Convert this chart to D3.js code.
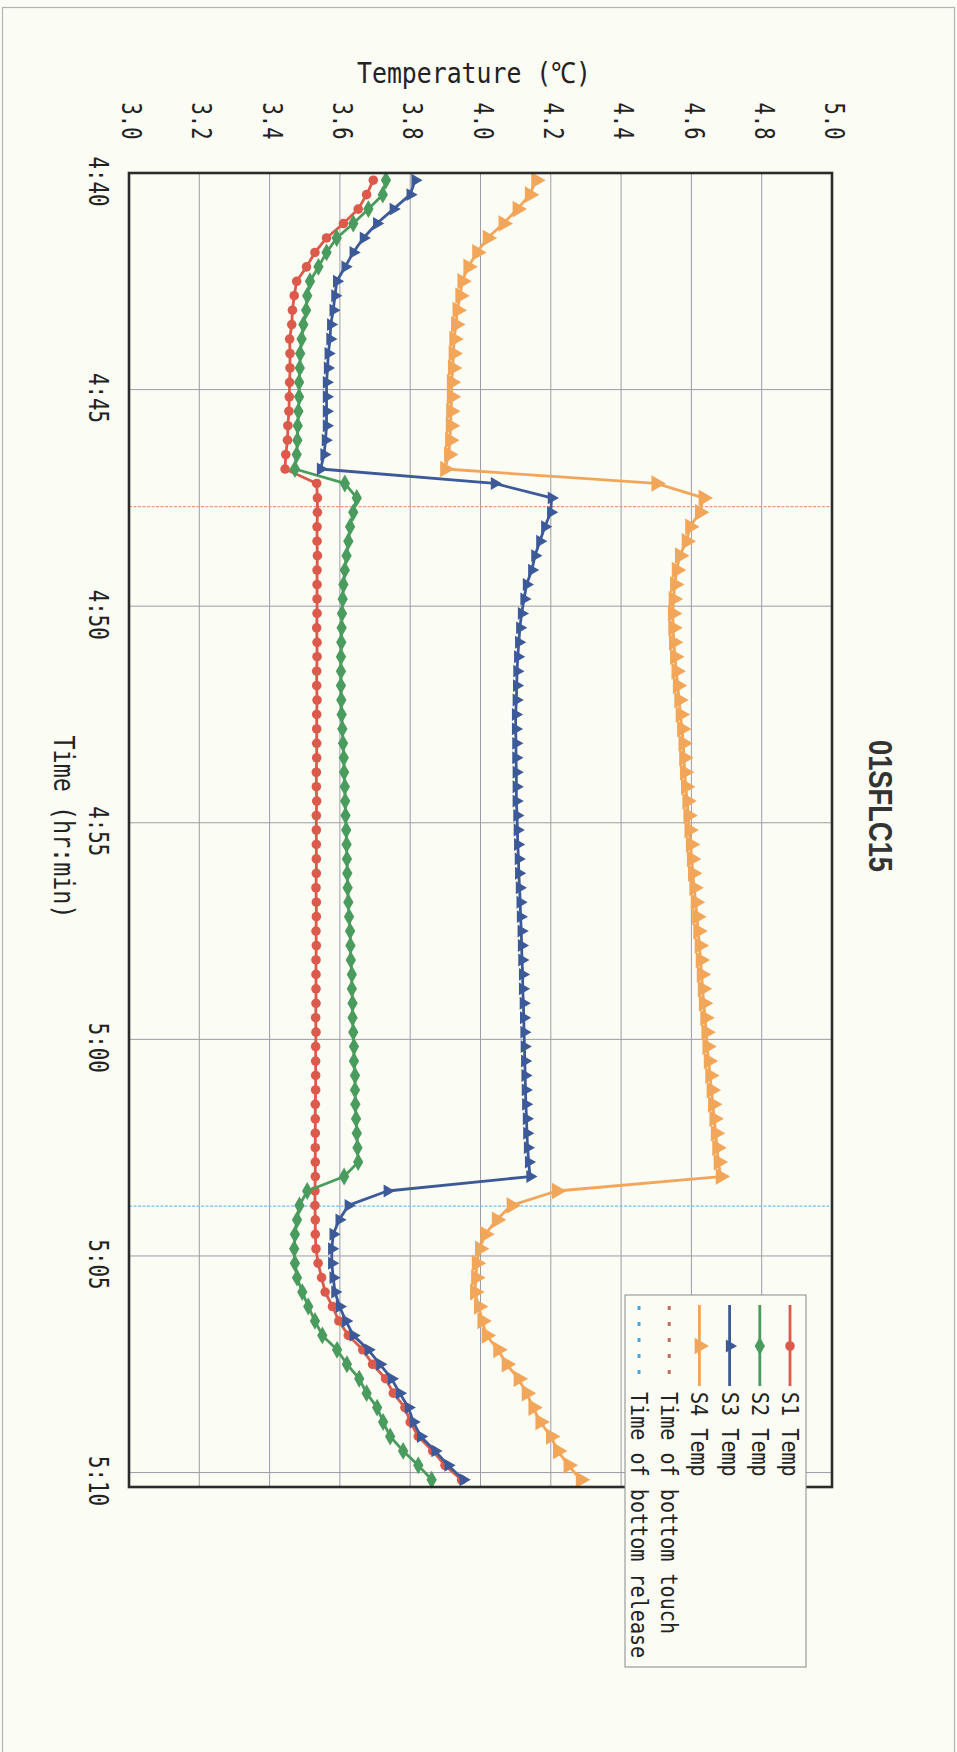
<!DOCTYPE html>
<html>
<head>
<meta charset="utf-8">
<script src="https://cdn.jsdelivr.net/npm/d3@7"></script>
<style>
  body { margin: 0; background: #fbfcf4; }
  svg { display: block; }
</style>
</head>
<body>
<script>
var chartTitle = '01SFLC15';
var tempTitle = 'Temperature (\u2103)';
var timeTitle = 'Time (hr:min)';

var tempTicks = [3.0, 3.2, 3.4, 3.6, 3.8, 4.0, 4.2, 4.4, 4.6, 4.8, 5.0];
var timeTicks = ['4:40:00', '4:45:00', '4:50:00', '4:55:00', '5:00:00', '5:05:00', '5:10:00'];
var timeDomain = ['4:40:00', '5:10:20'];

// one reading every 20 s starting at 4:40:10
var sampleStart = '4:40:10';
var sampleStep = 20;

var seriesNames = ['S1 Temp', 'S2 Temp', 'S3 Temp', 'S4 Temp'];

var s1Temp = [
  3.695, 3.676, 3.652, 3.610, 3.562, 3.529, 3.505, 3.477, 3.470, 3.465,
  3.463, 3.457, 3.458, 3.458, 3.457, 3.456, 3.455, 3.452, 3.451, 3.446,
  3.444, 3.534, 3.536, 3.536, 3.535, 3.535, 3.536, 3.535, 3.535, 3.535,
  3.535, 3.534, 3.535, 3.535, 3.534, 3.534, 3.535, 3.534, 3.534, 3.534,
  3.534, 3.533, 3.533, 3.534, 3.533, 3.533, 3.533, 3.533, 3.533, 3.532,
  3.533, 3.533, 3.532, 3.533, 3.532, 3.532, 3.532, 3.532, 3.531, 3.532,
  3.531, 3.531, 3.531, 3.531, 3.530, 3.530, 3.530, 3.530, 3.530, 3.530,
  3.529, 3.529, 3.530, 3.530, 3.532, 3.538, 3.548, 3.558, 3.579, 3.597,
  3.624, 3.665, 3.693, 3.730, 3.752, 3.785, 3.800, 3.823, 3.864, 3.899,
  3.946
];

var s2Temp = [
  3.731, 3.722, 3.681, 3.638, 3.591, 3.562, 3.539, 3.515, 3.507, 3.504,
  3.496, 3.491, 3.487, 3.486, 3.484, 3.484, 3.482, 3.480, 3.479, 3.477,
  3.472, 3.614, 3.648, 3.638, 3.629, 3.624, 3.619, 3.614, 3.610, 3.608,
  3.606, 3.605, 3.604, 3.603, 3.603, 3.603, 3.604, 3.605, 3.607, 3.609,
  3.611, 3.612, 3.614, 3.615, 3.616, 3.618, 3.619, 3.620, 3.621, 3.622,
  3.624, 3.626, 3.629, 3.630, 3.631, 3.634, 3.634, 3.636, 3.636, 3.638,
  3.640, 3.640, 3.643, 3.643, 3.644, 3.646, 3.648, 3.650, 3.652, 3.612,
  3.507, 3.485, 3.478, 3.472, 3.470, 3.472, 3.478, 3.493, 3.510, 3.529,
  3.550, 3.592, 3.620, 3.655, 3.676, 3.706, 3.723, 3.743, 3.780, 3.823,
  3.861
];

var s3Temp = [
  3.814, 3.800, 3.752, 3.705, 3.667, 3.638, 3.615, 3.591, 3.586, 3.581,
  3.574, 3.572, 3.567, 3.565, 3.562, 3.562, 3.562, 3.562, 3.559, 3.555,
  3.545, 4.040, 4.202, 4.200, 4.183, 4.169, 4.155, 4.146, 4.131, 4.124,
  4.117, 4.112, 4.109, 4.106, 4.104, 4.103, 4.102, 4.100, 4.100, 4.101,
  4.101, 4.102, 4.102, 4.102, 4.104, 4.105, 4.106, 4.108, 4.109, 4.111,
  4.113, 4.114, 4.116, 4.117, 4.118, 4.120, 4.120, 4.122, 4.123, 4.124,
  4.125, 4.126, 4.127, 4.128, 4.129, 4.131, 4.132, 4.134, 4.137, 4.141,
  3.735, 3.624, 3.598, 3.581, 3.577, 3.577, 3.581, 3.586, 3.599, 3.617,
  3.638, 3.681, 3.714, 3.747, 3.770, 3.795, 3.809, 3.830, 3.871, 3.908,
  3.951
];

var s4Temp = [
  4.158, 4.140, 4.105, 4.065, 4.020, 3.990, 3.965, 3.948, 3.942, 3.934,
  3.930, 3.925, 3.923, 3.921, 3.918, 3.918, 3.916, 3.915, 3.913, 3.910,
  3.899, 4.500, 4.634, 4.624, 4.596, 4.586, 4.567, 4.558, 4.553, 4.549,
  4.547, 4.548, 4.550, 4.553, 4.557, 4.561, 4.565, 4.569, 4.573, 4.577,
  4.579, 4.581, 4.584, 4.588, 4.591, 4.594, 4.598, 4.601, 4.604, 4.608,
  4.612, 4.616, 4.619, 4.623, 4.626, 4.629, 4.632, 4.635, 4.639, 4.642,
  4.645, 4.649, 4.653, 4.657, 4.661, 4.665, 4.669, 4.673, 4.677, 4.683,
  4.217, 4.088, 4.046, 4.013, 3.998, 3.989, 3.987, 3.984, 3.995, 4.005,
  4.017, 4.050, 4.074, 4.108, 4.131, 4.150, 4.170, 4.200, 4.220, 4.250,
  4.285
];

var eventNames = ['Time of bottom touch', 'Time of bottom release'];
var eventTimes = ['4:47:42', '5:03:51'];

var colors = ['#dc5a4c', '#4a9c5e', '#3d5a98', '#f2a65a'];
var eventColors = ['#ef9670', '#74bfeb'];
var eventLegendColors = ['#c56c58', '#4aa6de'];

var mono = "'DejaVu Sans Mono', monospace";

buildPlot();

/* ===== BUILD PLOT FUNCTION ===== */

function buildPlot() {
  var w = 957;
  var h = 1752;
  var plot = {left: 129, right: 832, top: 173, bottom: 1487};

  var parseTime = d3.timeParse('%H:%M:%S');
  var t0 = parseTime(sampleStart);

  var allSeries = [s1Temp, s2Temp, s3Temp, s4Temp].map(function(vals) {
    return vals.map(function(v, i) {
      return {time: d3.timeSecond.offset(t0, i * sampleStep), temp: v};
    });
  });

  var svgFrame = d3.select('body')
    .append('svg')
    .attr('width', w)
    .attr('height', h);

  // outer chart frame (scanned page)
  svgFrame.append('rect')
    .attr('x', 2.5)
    .attr('y', 7.5)
    .attr('width', 952)
    .attr('height', 1800)
    .attr('fill', '#fbfcf4')
    .attr('stroke', '#b4b4ae')
    .attr('stroke-width', 1.2);

  /* ===== scales ===== */

  var xScale = d3.scaleLinear()
    .domain([tempTicks[0], tempTicks[tempTicks.length - 1]])
    .range([plot.left, plot.right]);

  var yScale = d3.scaleTime()
    .domain(timeDomain.map(parseTime))
    .range([plot.top, plot.bottom]);

  /* ===== grid ===== */

  var grid = svgFrame.append('g')
    .attr('stroke', '#9d9ca8')
    .attr('stroke-width', 1);

  grid.selectAll('.vgrid').data(tempTicks)
    .enter()
    .append('line')
    .attr('x1', function(d) { return xScale(d); })
    .attr('x2', function(d) { return xScale(d); })
    .attr('y1', plot.top)
    .attr('y2', plot.bottom);

  grid.selectAll('.hgrid').data(timeTicks)
    .enter()
    .append('line')
    .attr('x1', plot.left)
    .attr('x2', plot.right)
    .attr('y1', function(d) { return yScale(parseTime(d)); })
    .attr('y2', function(d) { return yScale(parseTime(d)); });

  /* ===== event lines ===== */

  svgFrame.selectAll('.event').data(eventTimes)
    .enter()
    .append('line')
    .attr('x1', plot.left)
    .attr('x2', plot.right)
    .attr('y1', function(d) { return yScale(parseTime(d)); })
    .attr('y2', function(d) { return yScale(parseTime(d)); })
    .attr('stroke', function(d, i) { return eventColors[i]; })
    .attr('stroke-width', 1.3)
    .attr('stroke-dasharray', '3,1.5');

  /* ===== series ===== */

  var line = d3.line()
    .x(function(d) { return xScale(d.temp); })
    .y(function(d) { return yScale(d.time); });

  var symbolTypes = [d3.symbolCircle, d3.symbolDiamond, d3.symbolTriangle, d3.symbolTriangle];
  var symbolSizes = [72, 92, 72, 120];
  var symbolRotate = [0, 0, 90, 90];

  function marker(k) {
    return d3.symbol().type(symbolTypes[k]).size(symbolSizes[k])();
  }

  allSeries.forEach(function(series, k) {
    var g = svgFrame.append('g');
    g.append('path')
      .datum(series)
      .attr('d', line)
      .attr('fill', 'none')
      .attr('stroke', colors[k])
      .attr('stroke-width', 2.8)
      .attr('stroke-linejoin', 'round');
    g.selectAll('path.mk').data(series)
      .enter()
      .append('path')
      .attr('class', 'mk')
      .attr('d', marker(k))
      .attr('transform', function(d) {
        return 'translate(' + xScale(d.temp) + ',' + yScale(d.time) + ') rotate(' + symbolRotate[k] + ')';
      })
      .attr('fill', colors[k]);
  });

  // plot border
  svgFrame.append('rect')
    .attr('x', plot.left)
    .attr('y', plot.top)
    .attr('width', plot.right - plot.left)
    .attr('height', plot.bottom - plot.top)
    .attr('fill', 'none')
    .attr('stroke', '#2b2b2b')
    .attr('stroke-width', 2.6);

  /* ===== axes ===== */

  var tempAxis = d3.axisTop(xScale)
    .tickValues(tempTicks)
    .tickFormat(d3.format('.1f'))
    .tickSize(0);

  var gTemp = svgFrame.append('g')
    .attr('transform', 'translate(2,121)')
    .call(tempAxis);
  gTemp.select('.domain').remove();
  gTemp.selectAll('text')
    .attr('x', 0)
    .attr('y', 0)
    .attr('dy', '0.36em')
    .attr('text-anchor', 'middle')
    .attr('transform', 'rotate(90)')
    .attr('font-family', mono)
    .attr('font-size', 26)
    .attr('fill', '#222')
    .attr('textLength', 37)
    .attr('lengthAdjust', 'spacingAndGlyphs');

  var timeAxis = d3.axisLeft(yScale)
    .tickValues(timeTicks.map(parseTime))
    .tickFormat(d3.timeFormat('%-H:%M'))
    .tickSize(0);

  var gTime = svgFrame.append('g')
    .attr('transform', 'translate(98,0)')
    .call(timeAxis);
  gTime.select('.domain').remove();
  gTime.selectAll('text')
    .attr('x', 8)
    .attr('y', 0)
    .attr('dy', '0.36em')
    .attr('text-anchor', 'middle')
    .attr('transform', 'rotate(90)')
    .attr('font-family', mono)
    .attr('font-size', 26)
    .attr('fill', '#222')
    .attr('textLength', 50)
    .attr('lengthAdjust', 'spacingAndGlyphs');

  /* ===== titles ===== */

  svgFrame.append('text')
    .attr('x', 474)
    .attr('y', 83)
    .attr('text-anchor', 'middle')
    .attr('font-family', mono)
    .attr('font-size', 29)
    .attr('fill', '#222')
    .attr('textLength', 234)
    .attr('lengthAdjust', 'spacingAndGlyphs')
    .text(tempTitle);

  svgFrame.append('text')
    .attr('transform', 'translate(54,827) rotate(90)')
    .attr('text-anchor', 'middle')
    .attr('font-family', mono)
    .attr('font-size', 29)
    .attr('fill', '#222')
    .attr('textLength', 183)
    .attr('lengthAdjust', 'spacingAndGlyphs')
    .text(timeTitle);

  svgFrame.append('text')
    .attr('transform', 'translate(869,806) rotate(90)')
    .attr('text-anchor', 'middle')
    .attr('font-family', "'Liberation Sans', Arial, sans-serif")
    .attr('font-weight', 'bold')
    .attr('font-size', 34)
    .attr('fill', '#333')
    .attr('textLength', 132)
    .attr('lengthAdjust', 'spacingAndGlyphs')
    .text(chartTitle);

  /* ===== legend ===== */

  var legend = svgFrame.append('g');
  legend.append('rect')
    .attr('x', 625)
    .attr('y', 1295)
    .attr('width', 181)
    .attr('height', 372)
    .attr('fill', '#fbfcf4')
    .attr('stroke', '#8a8a88')
    .attr('stroke-width', 1);

  var legendItems = seriesNames.concat(eventNames);
  var colX = function(i) { return 790 - i * 30.2; };

  legendItems.forEach(function(name, i) {
    var x = colX(i);
    if (i < seriesNames.length) {
      legend.append('line')
        .attr('x1', x).attr('x2', x)
        .attr('y1', 1305).attr('y2', 1386)
        .attr('stroke', colors[i])
        .attr('stroke-width', 2.8);
      legend.append('path')
        .attr('d', marker(i))
        .attr('transform', 'translate(' + x + ',1346) rotate(' + symbolRotate[i] + ')')
        .attr('fill', colors[i]);
    } else {
      legend.append('line')
        .attr('x1', x).attr('x2', x)
        .attr('y1', 1306).attr('y2', 1386)
        .attr('stroke', eventLegendColors[i - seriesNames.length])
        .attr('stroke-width', 3)
        .attr('stroke-dasharray', '4,12');
    }
    legend.append('text')
      .attr('transform', 'translate(' + (x - 8) + ',1392) rotate(90)')
      .attr('font-family', mono)
      .attr('font-size', 23)
      .attr('fill', '#222')
      .attr('textLength', name.length * 12.1)
      .attr('lengthAdjust', 'spacingAndGlyphs')
      .text(name);
  });
}
</script>
</body>
</html>
